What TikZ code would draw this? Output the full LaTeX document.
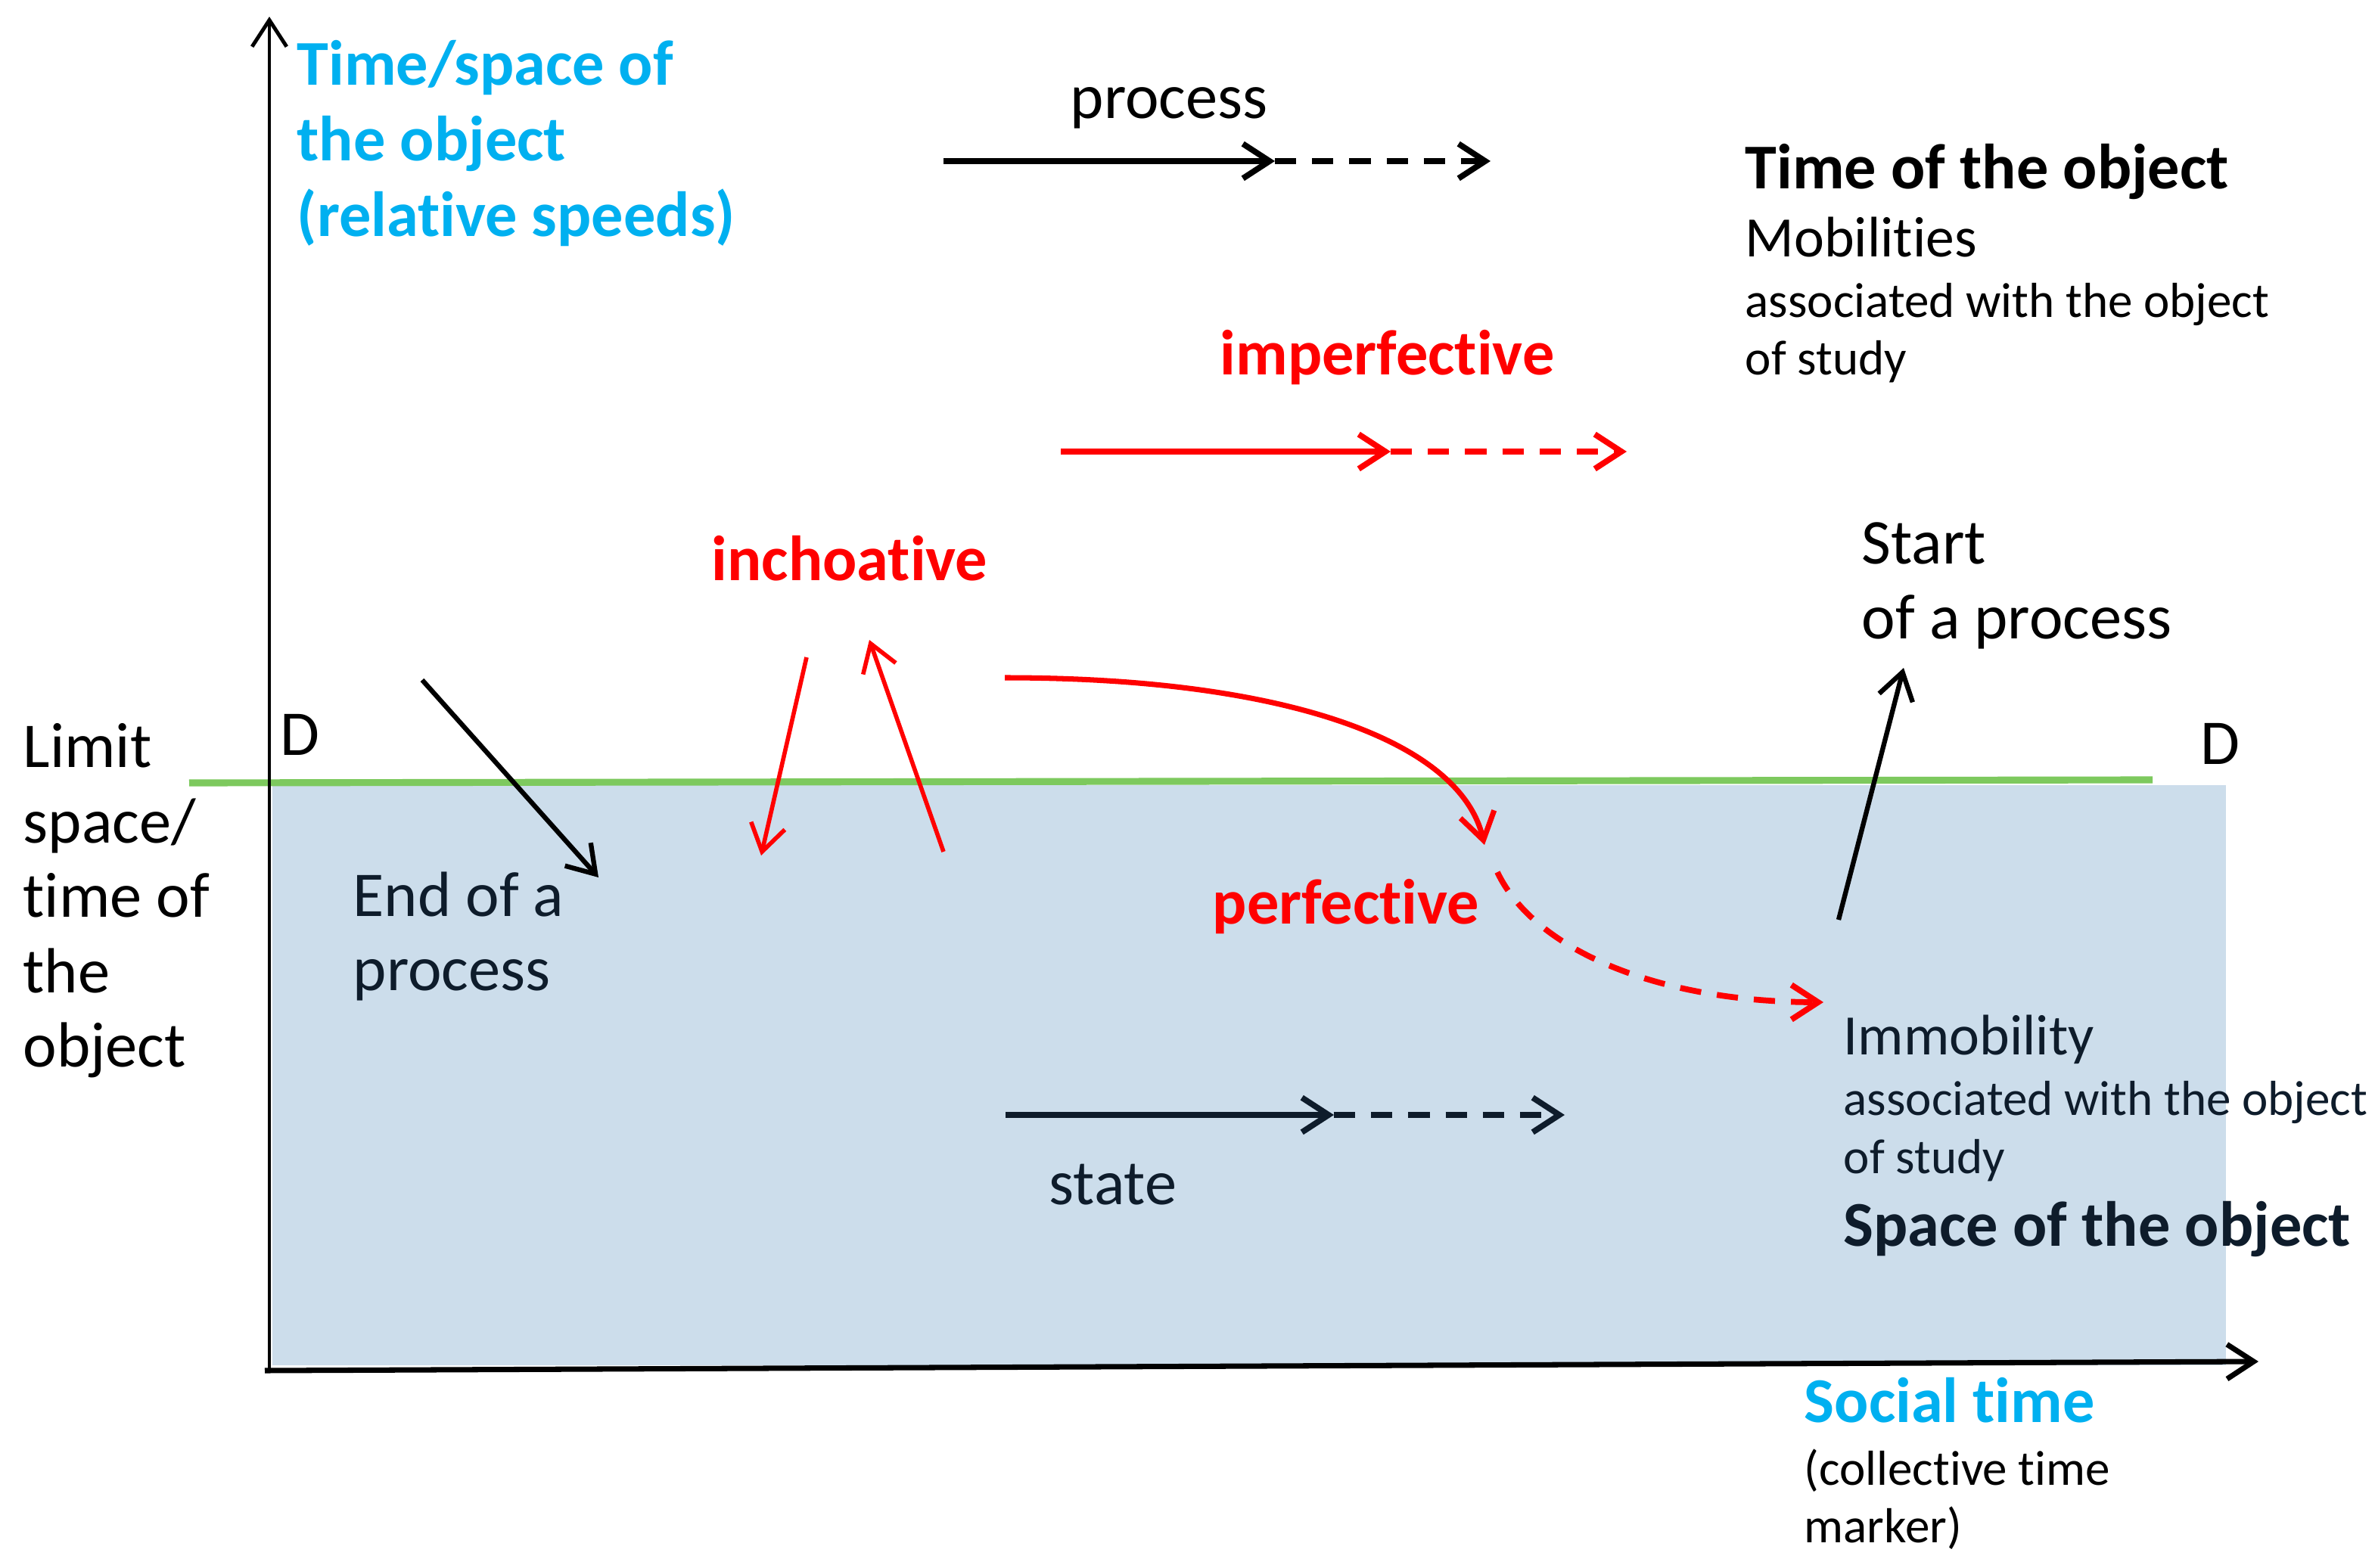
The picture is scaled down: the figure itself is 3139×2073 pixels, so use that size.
\documentclass[tikz,border=0pt]{standalone}
\usepackage{fontspec}
\setmainfont{Carlito}[Ligatures={NoCommon,NoContextual,NoRare},Contextuals=NoAlternate,RawFeature={-liga;-clig;-calt;-dlig}]
\usetikzlibrary{arrows.meta}
\definecolor{cyantxt}{HTML}{00B0F0}
\definecolor{redc}{HTML}{FF0000}
\definecolor{navy}{HTML}{0E1C2B}
\definecolor{bluefill}{HTML}{CCDDEB}
\definecolor{greenl}{HTML}{7DC95E}
\tikzset{
  lbl/.style={anchor=base west, inner sep=0pt, font=\fontsize{24}{28}\selectfont},
  midlbl/.style={anchor=base west, inner sep=0pt, font=\fontsize{21.5}{26}\selectfont},
  smalllbl/.style={anchor=base west, inner sep=0pt, font=\fontsize{18.5}{22}\selectfont},
  boldlbl/.style={anchor=base west, inner sep=0pt, font=\fontsize{24}{28}\bfseries},
  barb/.style={-{Straight Barb[length=10pt,width=13pt]}},
  thickarr/.style={barb, line width=2.2pt},
  thinarr/.style={barb, line width=1.6pt},
  dashpat/.style={dash pattern=on 8pt off 6pt},
}
\begin{document}
\begin{tikzpicture}[x=0.01cm,y=-0.01cm]
\useasboundingbox (0,0) rectangle (3139,2073);
% blue region and limit line
\fill[bluefill] (360,1038) rectangle (2942,1805);
\draw[greenl, line width=2.6pt] (250,1035) -- (2845,1031);
% axes
\coordinate (yb) at (356,1812);
\coordinate (yt) at (356,22);
\coordinate (xl) at (350,1812);
\coordinate (xr) at (2985,1800);
\draw[thinarr, line width=1.4pt] (yb) -- (yt);
\draw[barb, line width=2pt] (xl) -- (xr);
% axis labels
\node[boldlbl, text=cyantxt] (ylab1) at (392,113) {Time/space of};
\node[boldlbl, text=cyantxt] (ylab2) at (392,213) {the object};
\node[boldlbl, text=cyantxt] (ylab3) at (392,313) {(relative speeds)};
\node[boldlbl, text=cyantxt] (xlab1) at (2384,1880) {Social time};
\node[smalllbl] (xlab2) at (2384,1963) {(collective time};
\node[smalllbl] (xlab3) at (2384,2039) {marker)};
% limit label
\node[lbl] (lim1) at (30,1014) {Limit};
\node[lbl] (lim2) at (30,1114) {space/};
\node[lbl] (lim3) at (30,1212) {time of};
\node[lbl] (lim4) at (30,1312) {the};
\node[lbl] (lim5) at (30,1410) {object};
\node[lbl] (dl) at (370,998) {D};
\node[lbl] (dr) at (2908,1010) {D};
% process arrow
\node[lbl] (proc) at (1414,157) {process};
\coordinate (p0) at (1247,213);
\coordinate (p1) at (1685,213);
\coordinate (p2) at (1970,213);
\draw[thickarr] (p0) -- (p1);
\draw[thickarr, dashpat] (p1) -- (p2);
% time of the object
\node[boldlbl] (tobj) at (2306,250) {Time of the object};
\node[midlbl] (mob) at (2306,340) {Mobilities};
\node[smalllbl] (mob2) at (2306,420) {associated with the object};
\node[smalllbl] (mob3) at (2306,496) {of study};
% imperfective
\node[boldlbl, text=redc] (imperf) at (1612,495) {imperfective};
\coordinate (i0) at (1402,597);
\coordinate (i1) at (1838,597);
\coordinate (i2) at (2150,597);
\draw[thickarr, redc] (i0) -- (i1);
\draw[thickarr, redc, dashpat] (i1) -- (i2);
% inchoative
\node[boldlbl, text=redc] (inch) at (940,767) {inchoative};
\coordinate (ia) at (1066,869);
\coordinate (ib) at (1006,1131);
\coordinate (ic) at (1247,1126);
\coordinate (id) at (1149,846);
\draw[thinarr, redc] (ia) -- (ib);
\draw[thinarr, redc] (ic) -- (id);
% perfective curve
\coordinate (c0) at (1328,896);
\coordinate (c1) at (1962,1117);
\coordinate (c2) at (1979,1153);
\coordinate (c3) at (2410,1325);
\draw[thickarr, redc, line width=2pt] (c0) .. controls (1700,896) and (1930,980) .. (c1);
\draw[thickarr, redc, dashpat] (c2) .. controls (2030,1260) and (2200,1325) .. (c3);
\node[boldlbl, text=redc] (perf) at (1602,1221) {perfective};
% start of a process
\node[lbl] (st1) at (2460,745) {Start};
\node[lbl] (st2) at (2460,844) {of a process};
\coordinate (s0) at (2430,1216);
\coordinate (s1) at (2516,883);
\draw[thinarr, line width=1.8pt] (s0) -- (s1);
% end of a process
\coordinate (e0) at (558,899);
\coordinate (e1) at (791,1160);
\draw[thinarr, line width=1.8pt] (e0) -- (e1);
\node[lbl, text=navy] (end1) at (466,1211) {End of a};
\node[lbl, text=navy] (end2) at (466,1309) {process};
% immobility
\node[midlbl, text=navy] (imm) at (2436,1394) {Immobility};
\node[smalllbl, text=navy] (imm2) at (2436,1474) {associated with the object};
\node[smalllbl, text=navy] (imm3) at (2436,1551) {of study};
\node[boldlbl, text=navy] (spobj) at (2436,1647) {Space of the object};
% state arrow
\coordinate (t0) at (1329,1474);
\coordinate (t1) at (1763,1474);
\coordinate (t2) at (2068,1474);
\draw[thickarr, navy] (t0) -- (t1);
\draw[thickarr, navy, dashpat] (t1) -- (t2);
\node[lbl, text=navy] (state) at (1386,1592) {state};
\end{tikzpicture}
\end{document}
